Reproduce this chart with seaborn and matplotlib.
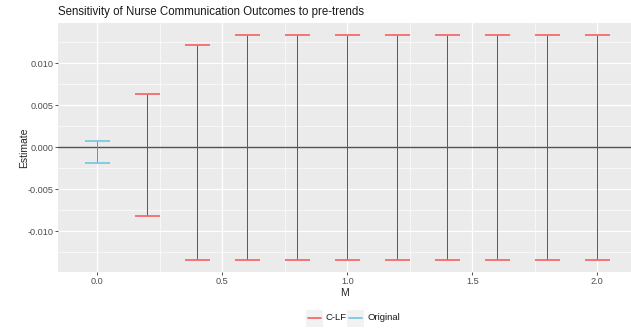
import matplotlib
matplotlib.use("Agg")
import matplotlib.pyplot as plt
from matplotlib.patches import Rectangle
import seaborn as sns
import pandas as pd

# Confidence bounds by smoothness parameter M
m_values = [0.0, 0.2, 0.4, 0.6, 0.8, 1.0, 1.2, 1.4, 1.6, 1.8, 2.0]
lower = [-0.00183, -0.00821, -0.01345, -0.01345, -0.01345, -0.01345,
         -0.01345, -0.01345, -0.01345, -0.01345, -0.01345]
upper = [0.00079, 0.00631, 0.01214, 0.01340, 0.01340, 0.01340,
         0.01340, 0.01340, 0.01340, 0.01340, 0.01340]
method = ["Original"] + ["C-LF"] * 10

df = pd.DataFrame({"M": m_values, "lb": lower, "ub": upper, "method": method})

sns.set_theme(style="darkgrid", rc={
    "axes.facecolor": "#EBEBEB",
    "grid.color": "white",
    "axes.edgecolor": "#EBEBEB",
    "xtick.color": "#333333",
    "ytick.color": "#333333",
})
plt.rcParams["font.family"] = ["Liberation Sans", "DejaVu Sans"]

fig = plt.figure(figsize=(6.31, 3.28), dpi=100)
ax = fig.add_axes([58 / 631, 1 - 272 / 328, 1 - 58 / 631, (272 - 23) / 328])

palette = {"C-LF": ("#EE1C1C", "#F76A6A"), "Original": ("#2FA8D8", "#7CC8E6")}
cap_half = 0.05

for name, grp in df.groupby("method"):
    stem, cap = palette[name]
    stems = ax.vlines(grp["M"], grp["lb"], grp["ub"], color=stem, lw=0.72, zorder=3)
    stems.set_snap(True)
    ax.hlines(grp["lb"], grp["M"] - cap_half, grp["M"] + cap_half, color=cap, lw=1.3, zorder=3)
    ax.hlines(grp["ub"], grp["M"] - cap_half, grp["M"] + cap_half, color=cap, lw=1.3, zorder=3)

ax.axhline(0, color="#333333", lw=1.0, alpha=0.85, zorder=2)

ax.set_xlim(-0.157, 2.135)
ax.set_ylim(-0.01485, 0.0148)
ax.set_xticks([0.0, 0.5, 1.0, 1.5, 2.0])
ax.set_xticklabels(["0.0", "0.5", "1.0", "1.5", "2.0"])
ax.set_yticks([-0.010, -0.005, 0.0, 0.005, 0.010])
ax.set_yticklabels(["-0.010", "-0.005", "0.000", "0.005", "0.010"])
ax.set_xticks([0.25, 0.75, 1.25, 1.75], minor=True)
ax.set_yticks([-0.0125, -0.0075, -0.0025, 0.0025, 0.0075, 0.0125], minor=True)
ax.grid(which="major", color="white", lw=0.9)
ax.grid(which="minor", color="white", lw=0.45)
ax.tick_params(axis="both", which="major", labelsize=6.6, length=2.2, width=0.6,
               color="#333333", pad=1.2, labelcolor="#4D4D4D", bottom=True, left=True)
ax.tick_params(which="minor", length=0)
for s in ax.spines.values():
    s.set_visible(False)

ax.set_xlabel("M", fontsize=7.5)
ax.set_ylabel("Estimate", fontsize=7.5)
ax.xaxis.set_label_coords(0.5, -(293 - 272) / (272 - 23), transform=ax.transAxes)
ax.xaxis.label.set_va("center")
ax.yaxis.set_label_coords(-(58 - 24) / (631 - 58), 0.5, transform=ax.transAxes)
ax.yaxis.label.set_va("center")
fig.text(58 / 631, 1 - 12 / 328, "Sensitivity of Nurse Communication Outcomes to pre-trends",
         fontsize=8.3, va="center", ha="left", color="#1A1A1A")

# Legend keys: grey square, coloured segment, label
key_y = 318
for name, x0 in [("C-LF", 306), ("Original", 347)]:
    fig.add_artist(Rectangle((x0 / 631, 1 - (key_y + 8.5) / 328), 17 / 631, 17 / 328,
                             transform=fig.transFigure, facecolor="#F2F2F2",
                             edgecolor="none"))
    fig.add_artist(plt.Line2D([(x0 + 2) / 631, (x0 + 15) / 631],
                              [1 - key_y / 328, 1 - key_y / 328],
                              transform=fig.transFigure, color=palette[name][1], lw=1.3))
    fig.text((x0 + 20) / 631, 1 - key_y / 328, name, fontsize=6.8, va="center",
             ha="left", color="#1A1A1A")

fig.savefig("out.png", dpi=100)
